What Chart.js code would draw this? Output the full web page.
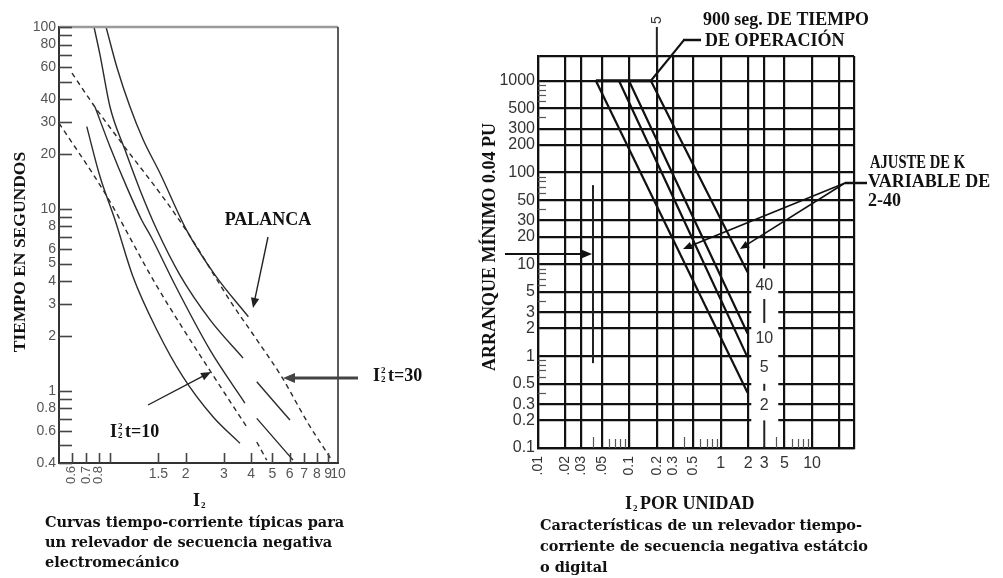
<!DOCTYPE html>
<html lang="es">
<head>
<meta charset="utf-8">
<title>Curvas tiempo-corriente de relevadores de secuencia negativa</title>
<script src="https://cdn.jsdelivr.net/npm/chart.js@4.4.1/dist/chart.umd.min.js"></script>
<style>
  html, body { margin: 0; padding: 0; background: #fff; }
  #lienzo { position: relative; width: 1003px; height: 578px; }
  #lienzo canvas { position: absolute; left: 0; top: 0; }
</style>
</head>
<body>
<div id="lienzo">
  <canvas id="graf-electro" width="1003" height="578"></canvas>
  <canvas id="graf-digital" width="1003" height="578"></canvas>
</div>
<script>
// ---------- Relevador electromecánico (izquierda) ----------
const etiquetasTiempoIzq = [0.4, 0.6, 0.8, 1, 2, 3, 4, 5, 6, 8, 10, 20, 30, 40, 60, 80, 100];
const marcasTiempoIzq = [0.4, 0.5, 0.6, 0.7, 0.8, 0.9, 1, 2, 3, 4, 5, 6, 7, 8, 9,
                         10, 20, 30, 40, 50, 60, 70, 80, 90, 100];
const marcasCorrienteIzq = [0.6, 0.7, 0.8, 0.9, 1.5, 2, 3, 4, 5, 6, 7, 8, 9];
const etiquetasGiradasIzq = [0.6, 0.7, 0.8];
const etiquetasCorrienteIzq = [1.5, 2, 3, 4, 5, 6, 7, 8, 9, 10];

// curvas continuas (I2 en pu, t en segundos)
const curvaA = [[0.704, 28.3], [0.81, 15.0], [0.949, 8.68], [1.147, 4.23], [1.478, 2.15],
                [1.945, 1.19], [2.67, 0.718], [3.55, 0.513]];
const curvaB = [[0.76, 100], [0.81, 70.1], [0.9, 36.3], [1.054, 21.1], [1.235, 12.7],
                [1.478, 7.64], [1.884, 4.32], [2.59, 2.45], [3.67, 1.51]];
const curvaBFinal = [[4.24, 1.12], [6.02, 0.689]];
const curvaC = [[0.768, 36.3], [0.9, 21.96], [1.073, 13.2], [1.257, 8.68], [1.398, 6.91],
                [1.788, 3.81], [2.59, 1.67], [3.74, 0.855]];
const curvaCFinal = [[4.24, 0.704], [6.22, 0.415]];
const curvaPalanca = [[0.863, 100], [0.966, 60.5], [1.111, 36.4], [1.279, 23.9], [1.526, 15.7],
                      [2.02, 7.64], [2.73, 4.32], [3.88, 2.55]];
// curvas I2^2 t = constante (discontinuas)
const curvaI2t10 = [[0.525, 29.6], [0.853, 12.2], [1.447, 3.91], [1.919, 2.25], [2.63, 1.25], [3.81, 0.633]];
const curvaI2t10Final = [[4.24, 0.522], [4.71, 0.415]];
const curvaI2t30 = [[0.602, 55.8], [0.768, 36.3], [1.018, 23.0], [1.608, 11.2], [2.05, 7.36],
                    [3.25, 3.03], [4.16, 1.97], [5.52, 1.19], [7.28, 0.663], [9.36, 0.415]];

// ---------- Relevador estático o digital (derecha) ----------
const etiquetasTiempoDer = [0.1, 0.2, 0.3, 0.5, 1, 2, 3, 5, 10, 20, 30, 50, 100, 200, 300, 500, 1000];
const lineasCorrienteDer = [0.01, 0.02, 0.03, 0.05, 0.1, 0.2, 0.3, 0.5, 1, 2, 3, 5, 10, 20];
const etiquetasGiradasDer = [0.01, 0.02, 0.03, 0.05, 0.1, 0.2, 0.3, 0.5];
const textosGiradosDer = ['.01', '.02', '.03', '.05', '0.1', '0.2', '0.3', '0.5'];
const etiquetasCorrienteDer = [1, 2, 3, 5, 10];
const marcasMenoresY = [0.4, 0.6, 0.7, 0.8, 0.9, 4, 6, 7, 8, 9, 40, 60, 70, 80, 90, 400, 600, 700, 800, 900];
const marcasMenoresX = [0.04, 0.06, 0.07, 0.08, 0.09, 0.4, 0.6, 0.7, 0.8, 0.9, 4, 6, 7, 8, 9];
const ajustesK = ['40', '10', '5', '2'];
const posicionAjusteK = [5.9, 1.56, 0.755, 0.29];

const tope900 = [[0.043, 1000], [0.172, 1000]];
const rectaK2 = [[0.043, 1000], [1.97, 0.40]];
const rectaK5 = [[0.077, 1000], [1.97, 0.97]];
const rectaK10 = [[0.099, 1000], [1.97, 1.77]];
const rectaK40 = [[0.172, 1000], [1.97, 8.2]];
const arranqueMinimo = [[0.04, 73], [0.04, 0.84]];

const serifB = px => `bold ${px}px "Liberation Serif", "Times New Roman", serif`;
const leyenda = px => `bold ${px}px "DejaVu Serif", serif`;
const sans = px => `${px}px "Liberation Sans", Arial, sans-serif`;

const puntos = pares => pares.map(([x, y]) => ({ x, y }));

function flecha(ctx, x1, y1, x2, y2, ancho, punta, color) {
  const a = Math.atan2(y2 - y1, x2 - x1);
  const c = Math.cos(a), s = Math.sin(a);
  ctx.save();
  ctx.strokeStyle = color;
  ctx.fillStyle = color;
  ctx.lineWidth = ancho;
  ctx.beginPath();
  ctx.moveTo(x1, y1);
  ctx.lineTo(x2 - c * punta * 0.8, y2 - s * punta * 0.8);
  ctx.stroke();
  ctx.beginPath();
  ctx.moveTo(x2, y2);
  ctx.lineTo(x2 - punta * c + punta * 0.42 * s, y2 - punta * s - punta * 0.42 * c);
  ctx.lineTo(x2 - punta * c - punta * 0.42 * s, y2 - punta * s + punta * 0.42 * c);
  ctx.closePath();
  ctx.fill();
  ctx.restore();
}

function linea(ctx, x1, y1, x2, y2, ancho, color) {
  ctx.save();
  ctx.strokeStyle = color;
  ctx.lineWidth = ancho;
  ctx.beginPath();
  ctx.moveTo(x1, y1);
  ctx.lineTo(x2, y2);
  ctx.stroke();
  ctx.restore();
}

function textoGirado(ctx, texto, x, y, fuente, color) {
  ctx.save();
  ctx.translate(x, y);
  ctx.rotate(-Math.PI / 2);
  ctx.font = fuente;
  ctx.fillStyle = color;
  ctx.textAlign = 'right';
  ctx.textBaseline = 'middle';
  ctx.fillText(texto, 0, 0);
  ctx.restore();
}

function tituloVertical(ctx, texto, x, y, fuente) {
  ctx.save();
  ctx.translate(x, y);
  ctx.rotate(-Math.PI / 2);
  ctx.font = fuente;
  ctx.fillStyle = '#111';
  ctx.textAlign = 'center';
  ctx.textBaseline = 'middle';
  ctx.fillText(texto, 0, 0);
  ctx.restore();
}

// I con subíndice 2 (y superíndice 2 opcional) seguido de texto
function etiquetaI2(ctx, x, base, resto, conCuadrado) {
  ctx.save();
  ctx.fillStyle = '#111';
  ctx.textAlign = 'left';
  ctx.textBaseline = 'alphabetic';
  ctx.font = serifB(18);
  ctx.fillText('I', x, base);
  const w = ctx.measureText('I').width;
  ctx.font = serifB(9);
  if (conCuadrado) ctx.fillText('2', x + w + 1, base - 8);
  ctx.fillText('2', x + w + 1, base + (conCuadrado ? 1 : 2));
  ctx.font = serifB(18);
  ctx.fillText(resto, x + w + 8, base);
  ctx.restore();
}

function parrafo(ctx, lineas, x, y0, paso, fuente) {
  ctx.save();
  ctx.fillStyle = '#111';
  ctx.font = fuente;
  ctx.textAlign = 'left';
  ctx.textBaseline = 'middle';
  lineas.forEach(([t, ancho], i) => {
    if (ancho) ctx.fillText(t, x, y0 + i * paso, ancho);
    else ctx.fillText(t, x, y0 + i * paso);
  });
  ctx.restore();
}

function serie(pares, opciones) {
  return Object.assign({
    data: puntos(pares),
    borderColor: '#2b2b2b',
    borderWidth: 1.4,
    pointRadius: 0,
    fill: false,
    tension: 0,
    cubicInterpolationMode: 'monotone'
  }, opciones || {});
}

// ---------- gráfica izquierda ----------
const decorIzq = {
  id: 'decorIzq',
  afterDraw(chart) {
    const { ctx, chartArea: a, scales: { x, y } } = chart;
    linea(ctx, a.left, a.top, a.right, a.top, 2.5, '#9a9a9a');
    linea(ctx, a.right, a.top, a.right, a.bottom, 1.6, '#333');
    marcasTiempoIzq.forEach(v => {
      const py = Math.round(y.getPixelForValue(v)) + 0.5;
      linea(ctx, a.left, py, a.left + 13, py, 1.6, '#444');
    });
    marcasCorrienteIzq.forEach(v => {
      const px = Math.round(x.getPixelForValue(v)) + 0.5;
      linea(ctx, px, a.bottom, px, a.bottom - 10, 1.6, '#444');
    });
    etiquetasGiradasIzq.forEach(v => {
      textoGirado(ctx, String(v), x.getPixelForValue(v), a.bottom + 3, sans(13), '#555');
    });
    ctx.save();
    ctx.font = sans(14);
    ctx.fillStyle = '#555';
    ctx.textAlign = 'center';
    ctx.textBaseline = 'middle';
    etiquetasCorrienteIzq.forEach(v => ctx.fillText(String(v), x.getPixelForValue(v), a.bottom + 11));
    ctx.restore();

    tituloVertical(ctx, 'TIEMPO EN SEGUNDOS', 20, 252, serifB(17.5));
    etiquetaI2(ctx, 193, 506, '', false);
    parrafo(ctx, [
      ['Curvas tiempo-corriente típicas para', 304],
      ['un relevador de secuencia negativa', 292],
      ['electromecánico', 0]
    ], 45, 523, 20, leyenda(14.5));

    // anotaciones
    ctx.save();
    ctx.font = serifB(18);
    ctx.fillStyle = '#111';
    ctx.textAlign = 'center';
    ctx.textBaseline = 'middle';
    ctx.fillText('PALANCA', 268, 220, 88);
    ctx.restore();
    flecha(ctx, 268, 237, 253, 308, 1.4, 10, '#222');
    flecha(ctx, 148, 405, 211, 372, 1.4, 10, '#222');
    etiquetaI2(ctx, 110, 437, 't=10', true);
    flecha(ctx, 358, 378, 283, 378, 3, 12, '#444');
    etiquetaI2(ctx, 373, 381, 't=30', true);
  }
};

const continua = { borderColor: '#2b2b2b', borderWidth: 1.4 };
const discontinua = { borderColor: '#2b2b2b', borderWidth: 1.4, borderDash: [5, 4] };

new Chart(document.getElementById('graf-electro'), {
  type: 'line',
  data: {
    datasets: [
      serie(curvaA, continua),
      serie(curvaB, continua),
      serie(curvaBFinal, continua),
      serie(curvaC, continua),
      serie(curvaCFinal, continua),
      serie(curvaPalanca, continua),
      serie(curvaI2t10, discontinua),
      serie(curvaI2t10Final, discontinua),
      serie(curvaI2t30, discontinua)
    ]
  },
  options: {
    responsive: false,
    animation: false,
    events: [],
    layout: { padding: { top: 27, right: 665, left: 0, bottom: 0 } },
    plugins: { legend: { display: false }, tooltip: { enabled: false } },
    scales: {
      x: {
        type: 'logarithmic',
        min: 0.525,
        max: 10,
        grid: { display: false, drawTicks: false },
        border: { display: true, color: '#333', width: 2 },
        ticks: { display: false },
        afterFit: s => { s.height = 115; }
      },
      y: {
        type: 'logarithmic',
        min: 0.4,
        max: 100,
        grid: { display: false, drawTicks: false },
        border: { display: true, color: '#333', width: 2 },
        afterBuildTicks: s => { s.ticks = etiquetasTiempoIzq.map(v => ({ value: v })); },
        ticks: {
          autoSkip: false,
          padding: 3,
          color: '#555',
          font: { family: '"Liberation Sans", Arial, sans-serif', size: 14 },
          callback: v => String(v)
        },
        afterFit: s => { s.width = 59; }
      }
    }
  },
  plugins: [decorIzq]
});

// ---------- gráfica derecha ----------
const decorDer = {
  id: 'decorDer',
  afterDatasetsDraw(chart) {
    const { ctx, chartArea: a, scales: { x, y } } = chart;
    // columna blanca con los ajustes de K
    const cx = x.getPixelForValue(3);
    const arriba = y.getPixelForValue(9);
    ctx.save();
    ctx.fillStyle = '#fff';
    ctx.fillRect(cx - 13, arriba, 27, a.bottom - 1.5 - arriba);
    ctx.font = sans(16);
    ctx.fillStyle = '#333';
    ctx.textAlign = 'center';
    ctx.textBaseline = 'middle';
    ajustesK.forEach((t, i) => ctx.fillText(t, cx, y.getPixelForValue(posicionAjusteK[i])));
    ctx.restore();
    linea(ctx, cx, y.getPixelForValue(4.2), cx, y.getPixelForValue(2.3), 2, '#222');
    linea(ctx, cx, y.getPixelForValue(0.5), cx, y.getPixelForValue(0.42), 2, '#222');
    linea(ctx, cx, y.getPixelForValue(0.2), cx, a.bottom, 2, '#222');

    // marcas menores
    marcasMenoresY.forEach(v => {
      const py = Math.round(y.getPixelForValue(v)) + 0.5;
      linea(ctx, a.left, py, a.left + 8, py, 1.2, '#555');
    });
    marcasMenoresX.forEach(v => {
      const px = Math.round(x.getPixelForValue(v)) + 0.5;
      const alto = (v === 0.04 || v === 0.4 || v === 4) ? 11 : 9;
      linea(ctx, px, a.bottom, px, a.bottom - alto, 1.2, '#555');
    });

    // etiquetas del eje de corriente
    etiquetasGiradasDer.forEach((v, i) => {
      textoGirado(ctx, textosGiradosDer[i], x.getPixelForValue(v), a.bottom + 8, sans(14), '#333');
    });
    ctx.save();
    ctx.font = sans(16);
    ctx.fillStyle = '#333';
    ctx.textAlign = 'center';
    ctx.textBaseline = 'middle';
    etiquetasCorrienteDer.forEach(v => ctx.fillText(String(v), x.getPixelForValue(v), a.bottom + 16));
    ctx.restore();

    // prolongación de la línea de 0.2 sobre el recuadro
    const x02 = x.getPixelForValue(0.2);
    linea(ctx, x02, a.top, x02, 27, 2, '#222');
    ctx.save();
    ctx.translate(x02, 20);
    ctx.rotate(-Math.PI / 2);
    ctx.font = sans(14);
    ctx.fillStyle = '#333';
    ctx.textAlign = 'center';
    ctx.textBaseline = 'middle';
    ctx.fillText('5', 0, 0);
    ctx.restore();

    tituloVertical(ctx, 'ARRANQUE MÍNIMO 0.04 PU', 490, 247, serifB(18));
    etiquetaI2(ctx, 625, 509, 'POR UNIDAD', false);
    parrafo(ctx, [
      ['Características de un relevador tiempo-', 322],
      ['corriente de secuencia negativa estátcio', 328],
      ['o digital', 0]
    ], 540, 526, 21, leyenda(14.5));

    // anotaciones
    ctx.save();
    ctx.font = serifB(18);
    ctx.fillStyle = '#111';
    ctx.textAlign = 'left';
    ctx.textBaseline = 'middle';
    ctx.fillText('900 seg. DE TIEMPO', 703, 20, 166);
    ctx.fillText('DE OPERACIÓN', 705, 41, 140);
    ctx.fillText('AJUSTE DE K', 870, 163, 95);
    ctx.fillText('VARIABLE DE', 868, 182, 130);
    ctx.fillText('2-40', 868, 201, 36);
    ctx.restore();
    const x900 = x.getPixelForValue(tope900[1][0]);
    const y900 = y.getPixelForValue(tope900[1][1]);
    linea(ctx, x900, y900, 684, 40, 2, '#111');
    linea(ctx, 683, 40, 701, 40, 2.5, '#111');
    linea(ctx, 845, 183, 867, 183, 2.5, '#111');
    flecha(ctx, 845, 183, 683, 249, 1.6, 9, '#111');
    flecha(ctx, 845, 183, 740, 249, 1.6, 9, '#111');
    flecha(ctx, 505, 254, 592, 254, 2, 12, '#111');
  }
};

const recta = { borderColor: '#111', borderWidth: 2.2 };

new Chart(document.getElementById('graf-digital'), {
  type: 'line',
  data: {
    datasets: [
      serie(tope900, { borderColor: '#111', borderWidth: 2.8 }),
      serie(rectaK2, recta),
      serie(rectaK5, recta),
      serie(rectaK10, recta),
      serie(rectaK40, recta),
      serie(arranqueMinimo, { borderColor: '#222', borderWidth: 2 })
    ]
  },
  options: {
    responsive: false,
    animation: false,
    events: [],
    layout: { padding: { top: 56, right: 149, left: 0, bottom: 0 } },
    plugins: { legend: { display: false }, tooltip: { enabled: false } },
    scales: {
      x: {
        type: 'logarithmic',
        min: 0.01,
        max: 28.8,
        grid: { color: '#111', lineWidth: 2.2, drawTicks: false },
        border: { display: true, color: '#111', width: 2.2 },
        afterBuildTicks: s => { s.ticks = lineasCorrienteDer.concat([28.8]).map(v => ({ value: v })); },
        ticks: { display: false },
        afterFit: s => { s.height = 130; }
      },
      y: {
        type: 'logarithmic',
        min: 0.1,
        max: 1860,
        grid: { color: '#111', lineWidth: 2.2, drawTicks: false },
        border: { display: true, color: '#111', width: 2.2 },
        afterBuildTicks: s => { s.ticks = etiquetasTiempoDer.concat([1860]).map(v => ({ value: v })); },
        ticks: {
          autoSkip: false,
          padding: 3,
          color: '#333',
          font: { family: '"Liberation Sans", Arial, sans-serif', size: 16 },
          callback: v => (etiquetasTiempoDer.includes(v) ? String(v) : '')
        },
        afterFit: s => { s.width = 538; }
      }
    }
  },
  plugins: [decorDer]
});
</script>
</body>
</html>
